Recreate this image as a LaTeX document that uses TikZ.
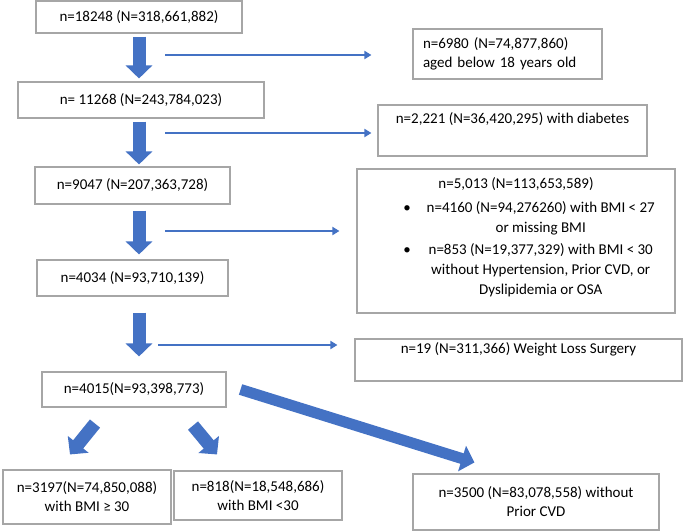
\documentclass[tikz,border=0pt]{standalone}
\usepackage{fontspec}
\setmainfont{Carlito}
\usetikzlibrary{arrows.meta}
\definecolor{flowblue}{HTML}{4472C4}
\definecolor{framegray}{HTML}{A6A6A6}
\tikzset{
  box/.style={draw=framegray, line width=1.1pt, inner sep=0pt, align=center, font=\fontsize{15}{19}\selectfont},
  fatarrow/.style={flowblue, line width=13pt, -{Triangle[width=26pt,length=13pt]}},
  slimarrow/.style={flowblue, line width=2.7pt, -{Triangle[width=8pt,length=7pt]}},
}
\begin{document}
\begin{tikzpicture}[x=1pt, y=-1pt]
\useasboundingbox (0,0) rectangle (685,532);
\node[box, minimum width=206, minimum height=32](all) at (139,17){n=18248 (N=318,661,882)};
\node[box, minimum width=246, minimum height=36](adult) at (141,100){n= 11268 (N=243,784,023)};
\node[box, minimum width=195, minimum height=37](nodiab) at (132.5,185.5){n=9047 (N=207,363,728)};
\node[box, minimum width=191, minimum height=36](bmi) at (132.5,278){n=4034 (N=93,710,139)};
\node[box, minimum width=184, minimum height=35](nosurg) at (134,389.5){n=4015(N=93,398,773)};
\node[box, minimum width=168, minimum height=54](obese) at (87,497){n=3197(N=74,850,088)\\with BMI ≥ 30};
\node[box, minimum width=168, minimum height=49](overw) at (258,495.5){n=818(N=18,548,686)\\with BMI <30};
\node[box, minimum width=246, minimum height=56](nocvd) at (536,502){n=3500 (N=83,078,558) without\\Prior CVD};
\node[box, text width=169pt, inner xsep=10pt, align=left, minimum height=50](young) at (507.5,54){n=6980 (N=74,877,860)\\aged below 18 years old};
\node[box, minimum width=269, minimum height=51](diab) at (512.5,130.5){n=2,221 (N=36,420,295) with diabetes\\\strut};
\node[box, minimum width=318, minimum height=144, font=\fontsize{15}{20}\selectfont](lowbmi) at (516,241){%
\begin{tabular}{@{\hspace{26pt}}c@{\hspace{16pt}}c@{}}
\multicolumn{2}{@{}c@{}}{n=5,013 (N=113,653,589)}\\[4pt]
•&n=4160 (N=94,276260) with BMI < 27\\
&or missing BMI\\[2pt]
•&n=853 (N=19,377,329) with BMI < 30\\
&without Hypertension, Prior CVD, or\\
&Dyslipidemia or OSA\\[8pt]
\end{tabular}};
\node[box, minimum width=327, minimum height=42](surg) at (518.5,360){n=19 (N=311,366) Weight Loss Surgery\\\strut};
\coordinate (spine) at (139,0);
\draw[fatarrow, shorten <=3pt, shorten >=3pt](spine |- all.south)--(spine |- adult.north);
\draw[fatarrow, shorten <=3pt, shorten >=2pt](spine |- adult.south)--(spine |- nodiab.north);
\draw[fatarrow, shorten <=6pt, shorten >=5pt](spine |- nodiab.south)--(spine |- bmi.north);
\draw[fatarrow, shorten <=16pt, shorten >=15pt](spine |- bmi.south)--(spine |- nosurg.north);
\coordinate (cut1) at (165,55);
\coordinate (cut2) at (165,133);
\coordinate (cut3) at (165,231);
\coordinate (cut4) at (158,345);
\draw[slimarrow, shorten >=41pt](cut1)--(cut1 -| young.west);
\draw[slimarrow, shorten >=6pt](cut2)--(cut2 -| diab.west);
\draw[slimarrow, shorten >=17pt](cut3)--(cut3 -| lowbmi.west);
\draw[slimarrow, shorten >=17pt](cut4)--(cut4 -| surg.west);
\draw[fatarrow]([xshift=-39pt, yshift=-16pt]nosurg.south)--([xshift=-17pt, yshift=15pt]obese.north);
\draw[fatarrow]([xshift=59pt, yshift=-18pt]nosurg.south)--([xshift=-41pt, yshift=16pt]overw.north);
\draw[fatarrow, line width=11pt]([xshift=14pt]nosurg.east)--([xshift=62pt, yshift=11pt]nocvd.north west);
\end{tikzpicture}
\end{document}
